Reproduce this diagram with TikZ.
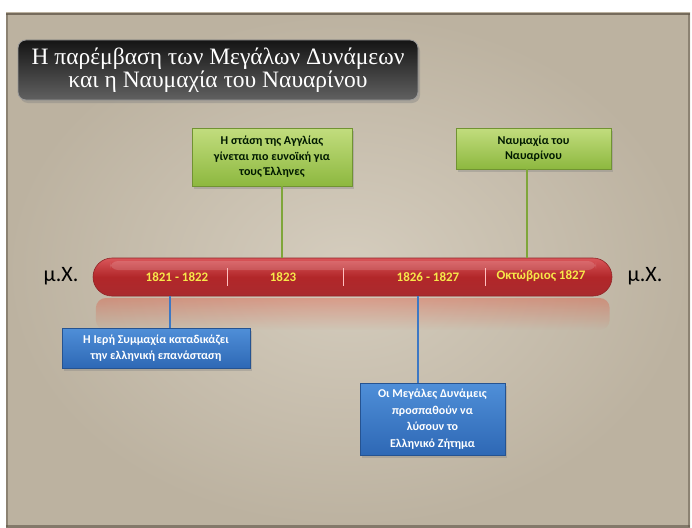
\documentclass[tikz,border=0pt]{standalone}
\usepackage{fontspec}
\setmainfont{Carlito}
\newfontfamily\titlefont{Liberation Serif}
\usetikzlibrary{shadows,fadings}
\definecolor{parch}{HTML}{D5CDBE}
\definecolor{parchdark}{HTML}{BCB2A0}
\definecolor{edgecol}{HTML}{5E5446}
\definecolor{gtop}{HTML}{C2DD7E}
\definecolor{gbot}{HTML}{8DB83F}
\definecolor{gline}{HTML}{7FA63A}
\definecolor{btop}{HTML}{4F8FD8}
\definecolor{bbot}{HTML}{2E68B5}
\definecolor{bline}{HTML}{3D78C4}
\definecolor{rtop}{HTML}{D9565A}
\definecolor{rbot}{HTML}{A92B2E}
\definecolor{ytext}{HTML}{F7E84A}
\tikzset{
  x=1pt, y=-1pt,
  greenbox/.style={draw=gbot!80!black, line width=0.6pt, top color=gtop, bottom color=gbot,
    align=center, font=\bfseries\fontsize{12}{15.5}\selectfont, text=black!90!green,
    drop shadow={shadow xshift=2pt, shadow yshift=-3pt, opacity=0.35}},
  bluebox/.style={draw=bbot!80!black, line width=0.6pt, top color=btop, bottom color=bbot,
    align=center, font=\bfseries\fontsize{12}{16.5}\selectfont, text=white,
    drop shadow={shadow xshift=2pt, shadow yshift=-3pt, opacity=0.35}},
  titlebox/.style={rounded corners=8pt, top color=black!92, bottom color=black!62,
    draw=black!40, line width=0.8pt, align=center, text=white,
    font=\titlefont\fontsize{23.5}{23}\selectfont,
    drop shadow={shadow xshift=2pt, shadow yshift=-3pt, opacity=0.4}},
  barlabel/.style={text=ytext, font=\bfseries\fontsize{13}{14}\selectfont},
  era/.style={text=black, font=\fontsize{22}{24}\selectfont},
  gconn/.style={gline, line width=2pt},
  bconn/.style={bline, line width=2pt},
  sep/.style={white!75!red, line width=0.8pt}
}
\begin{document}
\begin{tikzpicture}
\useasboundingbox (0,0) rectangle (692,527);
\fill[white] (0,0) rectangle (692,527);
% parchment background
\shade[inner color=parch, outer color=parchdark] (6,13) rectangle (690,527);
\draw[edgecol, line width=2.5pt, opacity=0.75] (6,14) -- (690,14);
\draw[edgecol, line width=3pt, opacity=0.6] (6,526) -- (690,526);
\draw[edgecol, line width=1.5pt, opacity=0.5] (7,14) -- (7,527);
\draw[edgecol, line width=2pt, opacity=0.5] (689,14) -- (689,527);

% title
\node[titlebox, minimum width=400, minimum height=60] (title) at (218,70)
  {Η παρέμβαση των Μεγάλων Δυνάμεων\\και η Ναυμαχία του Ναυαρίνου};

% bar reflection
\fill[red!60!brown, opacity=0.3, path fading=south, rounded corners=10pt] (96,298) rectangle (610,330);
% timeline bar
\node[rounded corners=19pt, minimum width=519, minimum height=38, top color=rtop, bottom color=rbot,
  middle color=rbot!90!red, draw=rbot!85!black, line width=0.6pt] (bar) at (352.5,277) {};
\fill[white, opacity=0.15, rounded corners=8pt] (110,261) rectangle (596,270);

\node[barlabel] (l1) at (177,277) {1821 - 1822};
\node[barlabel] (l2) at (283,277) {1823};
\node[barlabel] (l3) at (428,277) {1826 - 1827};
\node[barlabel] (l4) at (541,276) {Οκτώβριος 1827};
\coordinate (s1) at (227,0);
\coordinate (s2) at (343,0);
\coordinate (s3) at (485,0);
\draw[sep] (s1 |- 0,268) -- (s1 |- 0,286);
\draw[sep] (s2 |- 0,268) -- (s2 |- 0,286);
\draw[sep] (s3 |- 0,268) -- (s3 |- 0,286);

\node[era] (eraL) at (61,276) {μ.Χ.};
\node[era] (eraR) at (645,276) {μ.Χ.};

% green boxes
\node[greenbox, minimum width=160, minimum height=58] (g1) at (272,157)
  {Η στάση της Αγγλίας\\γίνεται πιο ευνοϊκή για\\τους Έλληνες};
\node[greenbox, minimum width=155, minimum height=41] (g2) at (533.5,148.5)
  {Ναυμαχία του\\Ναυαρίνου};
\coordinate (c1) at (282,0);
\coordinate (c2) at (527,0);
\draw[gconn] (g1.south -| c1) -- (bar.north -| c1);
\draw[gconn] (g2.south -| c2) -- (bar.north -| c2);

% blue boxes
\node[bluebox, minimum width=188, minimum height=40] (b1) at (156,348)
  {Η Ιερή Συμμαχία καταδικάζει\\την ελληνική επανάσταση};
\node[bluebox, minimum width=145, minimum height=72] (b2) at (432.5,419)
  {Οι Μεγάλες Δυνάμεις\\προσπαθούν να\\λύσουν το\\Ελληνικό Ζήτημα};
\coordinate (c3) at (170,0);
\coordinate (c4) at (418,0);
\draw[bconn] (bar.south -| c3) -- (b1.north -| c3);
\draw[bconn] (bar.south -| c4) -- (b2.north -| c4);
\end{tikzpicture}
\end{document}
